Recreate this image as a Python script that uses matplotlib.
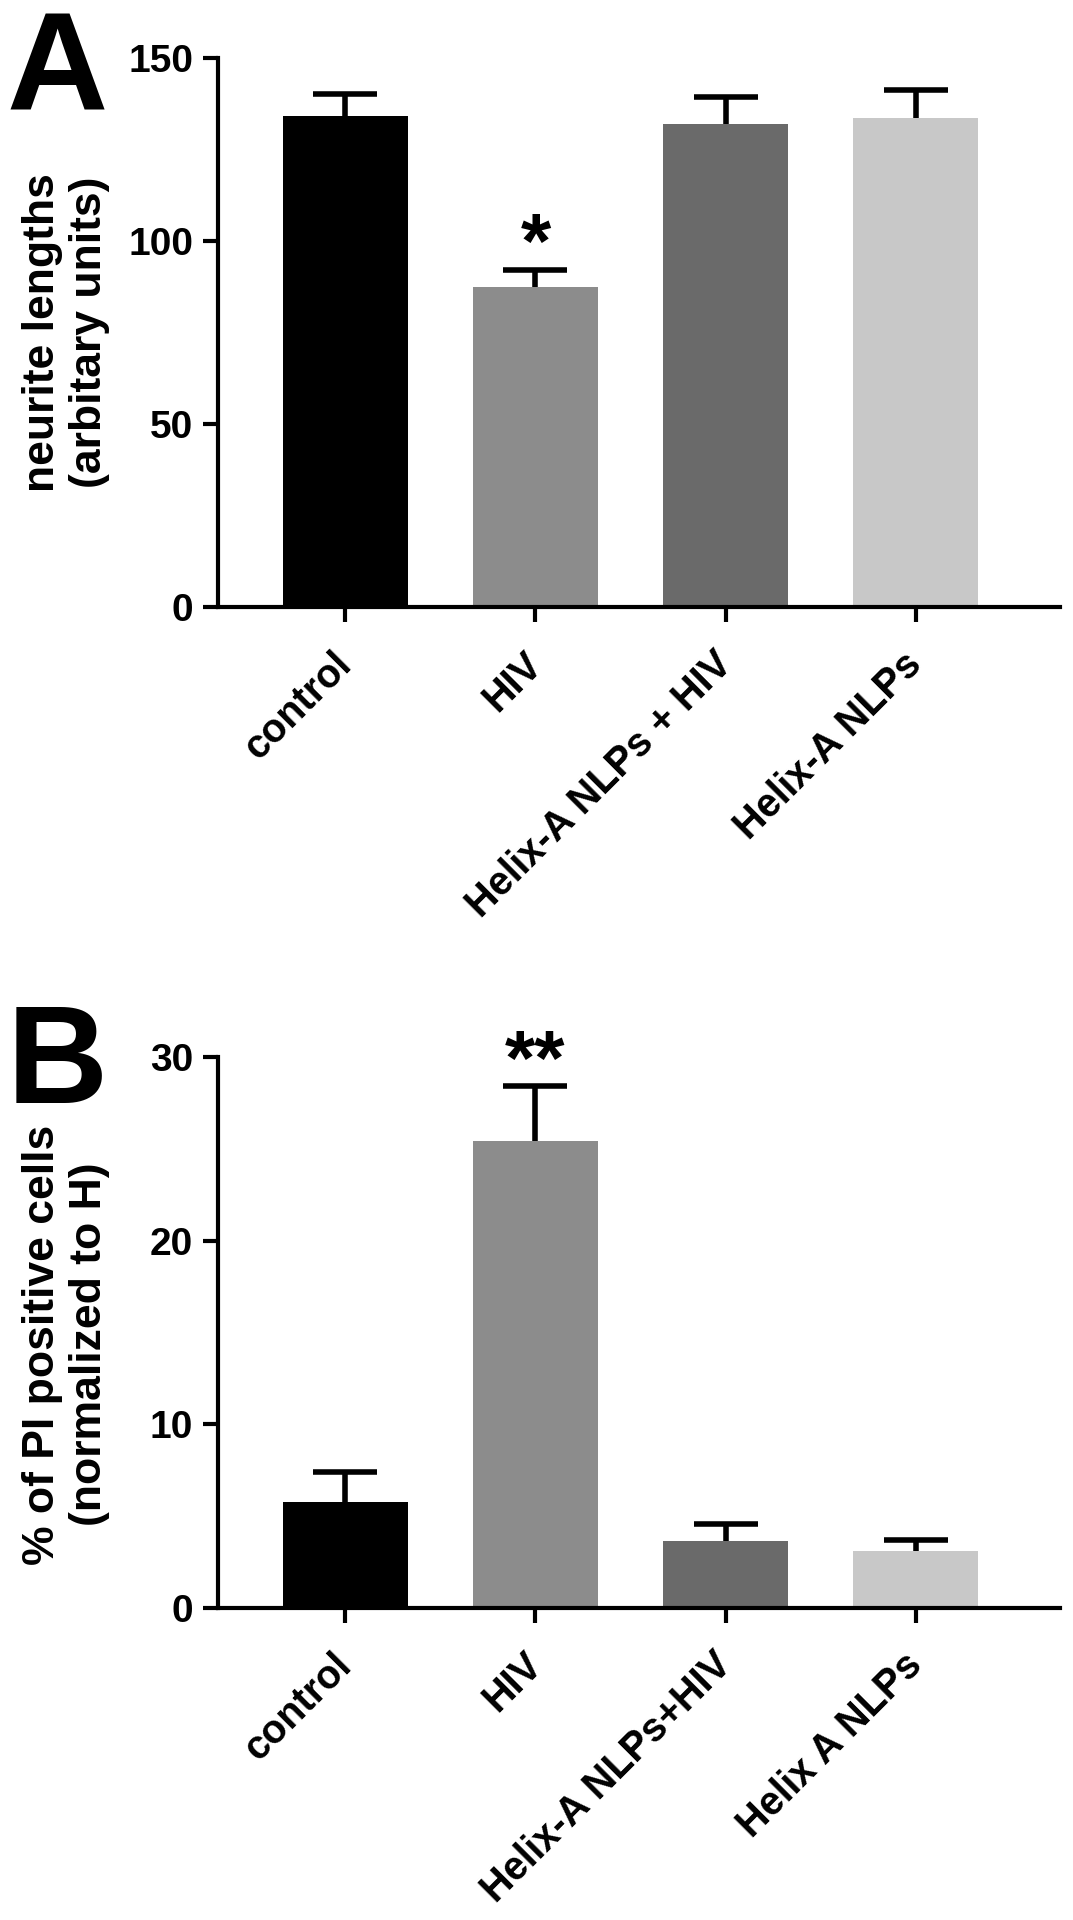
import matplotlib
matplotlib.use('Agg')
import matplotlib.pyplot as plt
import matplotlib.transforms as mtransforms
import numpy as np

plt.rcParams['font.family'] = ['Liberation Sans', 'DejaVu Sans']
plt.rcParams['font.weight'] = 'bold'

# panel A: neurite lengths
labels_a = ['control', 'HIV', 'Helix-A NLPs + HIV', 'Helix-A NLPs']
mean_a = [134.2, 87.3, 132.0, 133.6]
sem_a = [5.8, 4.8, 7.3, 7.6]
ticks_a = [0, 50, 100, 150]

# panel B: % PI positive cells
labels_b = ['control', 'HIV', 'Helix-A NLPs+HIV', 'Helix A NLPs']
mean_b = [5.75, 25.4, 3.65, 3.1]
sem_b = [1.65, 3.0, 0.95, 0.6]
ticks_b = [0, 10, 20, 30]

colors = ['#000000', '#8c8c8c', '#6a6a6a', '#c8c8c8']

fig = plt.figure(figsize=(10.73, 19.2), dpi=100)
ax_a = fig.add_axes([0.2032, 0.6836, 0.7847, 0.2864])
ax_b = fig.add_axes([0.2032, 0.1625, 0.7847, 0.2870])

# nudge the rotated tick labels a little to the left
shift = mtransforms.ScaledTranslation(-13 / 100, 0, fig.dpi_scale_trans)


def draw_panel(ax, labels, means, errs, yticks, ylabel, label_y):
    x = np.arange(len(labels))
    ax.bar(x, means, width=0.66, color=colors, zorder=2)
    eb = ax.errorbar(x, means, yerr=[np.zeros(len(errs)), errs], fmt='none',
                     ecolor='black', elinewidth=4, capsize=23, capthick=4, zorder=1)
    # only the upper cap is drawn
    eb[1][0].set_visible(False)
    ax.set_xlim(-0.67, 3.76)
    ax.set_ylim(0, yticks[-1])
    ax.set_yticks(yticks)
    ax.set_xticks(x)
    ax.set_xticklabels(labels, rotation=45, ha='right', va='top',
                       rotation_mode='anchor', fontsize=28.5)
    for s in ['top', 'right']:
        ax.spines[s].set_visible(False)
    for s in ['left', 'bottom']:
        ax.spines[s].set_linewidth(3)
    ax.tick_params(axis='both', width=3, length=11, direction='out')
    ax.tick_params(axis='y', labelsize=28, pad=7)
    ax.tick_params(axis='x', pad=16)
    for lab in ax.get_xticklabels():
        lab.set_transform(lab.get_transform() + shift)
    ax.set_ylabel(ylabel, fontsize=32, fontweight='bold', linespacing=1.2)
    ax.yaxis.set_label_coords(-0.128, label_y)


draw_panel(ax_a, labels_a, mean_a, sem_a, ticks_a,
           'neurite lengths\n(arbitary units)', 0.5)
draw_panel(ax_b, labels_b, mean_b, sem_b, ticks_b,
           '% of PI positive cells\n(normalized to H)', 0.478)

# significance stars
ax_a.text(1, mean_a[1] + sem_a[1] + 6, '*', ha='center', va='center', fontsize=56)
ax_b.text(1, mean_b[1] + sem_b[1] + 1.2, '**', ha='center', va='center', fontsize=56)

# panel letters
fig.text(0.006, 0.9427, 'A', fontsize=101, ha='left', va='baseline')
fig.text(0.006, 0.4255, 'B', fontsize=101, ha='left', va='baseline')

fig.savefig('out.png', dpi=100)
